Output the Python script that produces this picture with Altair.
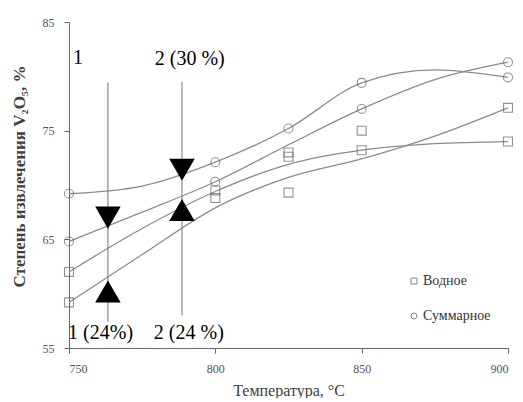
import altair as alt
import pandas as pd

series_names = ["Водное", "Суммарное"]
water_x = [750, 750, 800, 800, 825, 825, 825, 850, 850, 900, 900]
water_y = [62.0, 59.2, 69.5, 68.8, 73.0, 72.6, 69.3, 75.0, 73.2, 77.1, 74.0]
total_x = [750, 750, 800, 800, 825, 850, 850, 900, 900]
total_y = [69.2, 64.8, 72.1, 70.3, 75.2, 79.4, 77.0, 81.3, 79.9]

# ---- trend curves ----
trend_x = [750, 775, 800, 825, 850, 875, 900]
trend_a = [69.2, 69.9, 72.1, 75.2, 79.4, 80.6, 79.9]
trend_b = [64.8, 67.5, 70.3, 73.7, 77.0, 79.7, 81.3]
trend_c = [62.0, 66.0, 69.4, 71.9, 73.2, 73.8, 74.0]
trend_d = [59.2, 63.6, 67.9, 70.7, 72.4, 74.5, 77.1]

# ---- annotations ----
guide_x = [763.3, 788.6]
guide_top = [79.4, 79.5]
guide_bottom = [57.4, 58.0]
arrow_x = [763.3, 763.3, 788.6, 788.6]
arrow_y = [67.0, 60.2, 71.4, 67.7]
arrow_dir = ["down", "up", "down", "up"]
label_text = ["1", "2 (30 %)", "1 (24%)", "2 (24 %)"]
label_x = [751.4, 779.3, 749.7, 779.0]
label_y = [81.1, 81.0, 55.8, 55.8]

FONT = "Liberation Serif"

pts = pd.DataFrame({
    "t": water_x + total_x,
    "v": water_y + total_y,
    "s": [series_names[0]] * len(water_x) + [series_names[1]] * len(total_x),
})
rows = []
for name, ys in zip(["a", "b", "c", "d"], [trend_a, trend_b, trend_c, trend_d]):
    for t, v in zip(trend_x, ys):
        rows.append({"t": t, "v": v, "c": name})
trend = pd.DataFrame(rows)
guides = pd.DataFrame({"t": guide_x, "y1": guide_top, "y2": guide_bottom})
arrows = pd.DataFrame({"t": arrow_x, "v": arrow_y, "d": arrow_dir})
labels = pd.DataFrame({"t": label_x, "v": label_y, "txt": label_text})

xs = alt.Scale(domain=[750, 900], nice=False, zero=False)
ys = alt.Scale(domain=[55, 85], nice=False, zero=False)

xax = alt.Axis(values=[750, 800, 850, 900], title="Температура, °C", grid=False,
               labelFont=FONT, labelFontSize=12, labelColor="#555555",
               titleFont=FONT, titleFontSize=16, titleFontWeight="normal", titleColor="#404040",
               tickSize=5, labelPadding=10, titlePadding=8,
               domainColor="#666666", tickColor="#666666")
yax = alt.Axis(values=[55, 65, 75, 85], title="Степень извлечения V₂O₅, %", grid=False,
               labelFont=FONT, labelFontSize=12, labelColor="#555555",
               titleFont=FONT, titleFontSize=17, titleFontWeight="bold", titleColor="#404040",
               titleX=-41, titleY=154,
               tickSize=5, labelPadding=10,
               domainColor="#666666", tickColor="#666666")

lines = alt.Chart(trend).mark_line(interpolate="monotone", color="#8c8c8c", strokeWidth=1.3).encode(
    x=alt.X("t:Q", scale=xs, axis=xax),
    y=alt.Y("v:Q", scale=ys, axis=yax),
    detail="c:N",
)

points = alt.Chart(pts).mark_point(filled=False, size=80, strokeWidth=1.1, color="#666666").encode(
    x=alt.X("t:Q", scale=xs),
    y=alt.Y("v:Q", scale=ys),
    shape=alt.Shape("s:N", scale=alt.Scale(domain=series_names, range=["square", "circle"]),
                    legend=alt.Legend(title=None, orient="none", legendX=338, legendY=252,
                                      labelFont=FONT, labelFontSize=14, labelColor="#333333",
                                      symbolSize=36, symbolStrokeColor="#555555",
                                      symbolStrokeWidth=1, symbolFillColor="transparent",
                                      rowPadding=21, labelOffset=2)),
)

rules = alt.Chart(guides).mark_rule(color="#777777", strokeWidth=1).encode(
    x=alt.X("t:Q", scale=xs),
    y=alt.Y("y1:Q", scale=ys),
    y2="y2:Q",
)

down = alt.Chart(arrows).transform_filter(alt.datum.d == "down").mark_point(
    shape="triangle-down", filled=True, color="black", size=650, opacity=1).encode(
    x=alt.X("t:Q", scale=xs), y=alt.Y("v:Q", scale=ys))
up = alt.Chart(arrows).transform_filter(alt.datum.d == "up").mark_point(
    shape="triangle-up", filled=True, color="black", size=650, opacity=1).encode(
    x=alt.X("t:Q", scale=xs), y=alt.Y("v:Q", scale=ys))

texts = alt.Chart(labels).mark_text(font=FONT, fontSize=20, align="left", baseline="alphabetic",
                                    color="black").encode(
    x=alt.X("t:Q", scale=xs), y=alt.Y("v:Q", scale=ys), text="txt:N")

chart = alt.layer(lines, points, rules, down, up, texts).properties(
    width=439, height=326,
    padding={"left": 2, "top": 8, "right": 0, "bottom": 0},
).configure_view(stroke=None)

chart.save("out.html", embed_options={"renderer": "svg", "actions": False})
